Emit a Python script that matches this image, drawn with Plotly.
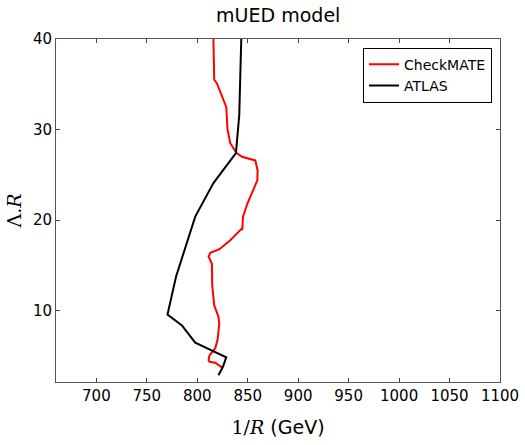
import plotly.graph_objects as go

atlas_x = [843.6, 841.6, 838.3, 816.0, 798.0, 779.0, 770.5, 784.8, 798.0, 828.7, 825.4, 821.0]
atlas_y = [40.0, 31.6, 27.4, 24.1, 20.4, 13.8, 9.6, 8.4, 6.5, 4.87, 3.83, 2.9]

cm_x = [816.0, 816.8, 819.5, 828.7, 830.0, 832.7, 838.7, 844.3, 857.5, 859.8, 859.5, 854.0,
        849.9, 845.3, 844.6, 844.3, 832.7, 822.0, 812.9, 811.2, 814.5, 814.8, 816.8, 821.0,
        821.8, 820.1, 817.8, 812.2, 811.2, 812.2, 817.8, 824.4]
cm_y = [40.0, 35.5, 35.1, 32.5, 30.0, 28.5, 27.45, 27.0, 26.6, 25.5, 24.4, 23.0,
        21.9, 20.4, 18.9, 19.1, 17.8, 16.8, 16.4, 16.0, 15.2, 12.85, 10.6, 9.35,
        8.6, 6.8, 5.86, 5.1, 4.57, 4.38, 4.27, 3.76]

x_ticks = [700, 750, 800, 850, 900, 950, 1000, 1050, 1100]
y_ticks = [10, 20, 30, 40]

fig = go.Figure()
fig.add_trace(go.Scatter(x=cm_x, y=cm_y, mode="lines", name="CheckMATE",
                         line=dict(color="#ff0000", width=2)))
fig.add_trace(go.Scatter(x=atlas_x, y=atlas_y, mode="lines", name="ATLAS",
                         line=dict(color="#000000", width=2)))

fig.update_layout(
    width=525, height=445,
    margin=dict(l=56, r=25, t=39, b=63, autoexpand=False),
    paper_bgcolor="white", plot_bgcolor="white",
    font=dict(family="DejaVu Sans", color="black", size=15),
    title=dict(text="mUED model", x=0.53, xanchor="center", y=0.98, yanchor="top",
               font=dict(size=19)),
    showlegend=True,
    legend=dict(x=0.982, y=0.975, xanchor="right", yanchor="top",
                bordercolor="black", borderwidth=1, bgcolor="white",
                font=dict(size=14), tracegroupgap=0),
    xaxis=dict(range=[660, 1100], tickvals=x_ticks, ticks="inside", ticklen=4,
               tickcolor="#444", showline=True, linecolor="#555", linewidth=1,
               mirror="ticks", showgrid=False, zeroline=False, automargin=False,
               tickfont=dict(size=15),
               title=dict(text='<span style="font-family:DejaVu Serif">1/<i>R</i></span> (GeV)',
                          font=dict(size=19), standoff=16)),
    yaxis=dict(range=[2.15, 40], tickvals=y_ticks, ticks="inside", ticklen=4,
               tickcolor="#444", showline=True, linecolor="#555", linewidth=1,
               mirror="ticks", showgrid=False, zeroline=False, automargin=False,
               tickfont=dict(size=15),
               title=dict(text='<span style="font-family:DejaVu Serif">Λ.<i>R</i></span>',
                          font=dict(size=19), standoff=6)),
)

fig.write_html("out.html", config={"displayModeBar": False},
               post_script="document.body.style.margin='0';document.body.style.overflow='hidden';")
